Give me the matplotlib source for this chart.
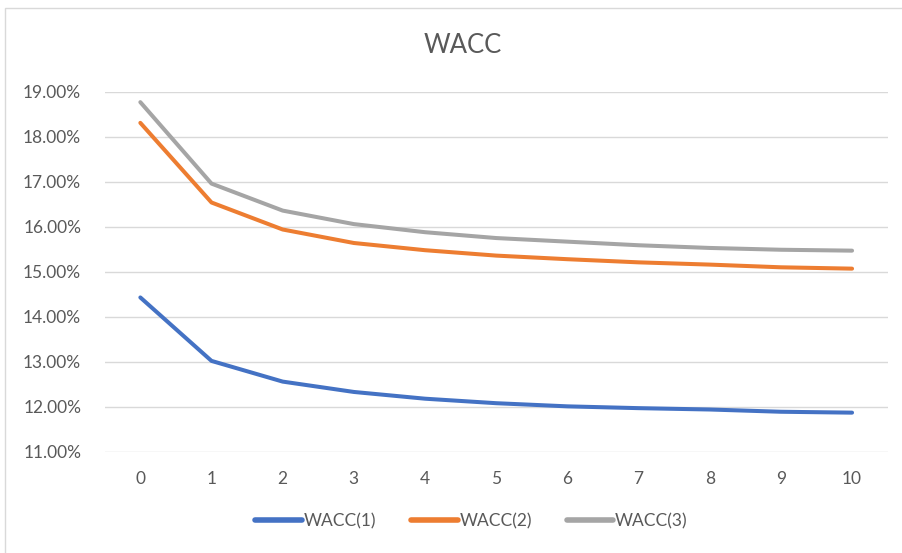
import numpy as np
import matplotlib
matplotlib.use("Agg")
import matplotlib.pyplot as plt
from matplotlib.ticker import FuncFormatter
from matplotlib.patches import Rectangle

# data (percent)
years = [0, 1, 2, 3, 4, 5, 6, 7, 8, 9, 10]
wacc_1 = [14.43, 13.02, 12.56, 12.33, 12.18, 12.08, 12.01, 11.97, 11.94, 11.89, 11.87]
wacc_2 = [18.31, 16.54, 15.94, 15.64, 15.48, 15.36, 15.28, 15.21, 15.16, 15.10, 15.07]
wacc_3 = [18.77, 16.96, 16.36, 16.06, 15.88, 15.75, 15.67, 15.59, 15.53, 15.49, 15.47]
series_names = ["WACC(1)", "WACC(2)", "WACC(3)"]
colors = ["#4472C4", "#ED7D31", "#A5A5A5"]

plt.rcParams['font.family'] = ['Lato', 'DejaVu Sans']
text_col = "#595959"

fig = plt.figure(figsize=(9.03, 5.53), dpi=100)
ax = fig.add_axes([0.116, 0.183, 0.867, 0.651])

x = np.arange(len(years))
for vals, name, c in zip([wacc_1, wacc_2, wacc_3], series_names, colors):
    ax.plot(x, vals, color=c, lw=2.9, label=name, solid_capstyle="round")

ax.set_xlim(-0.5, len(years) - 0.5)
ax.set_ylim(11, 19)
ax.set_yticks(np.arange(11, 19.5, 1))
ax.yaxis.set_major_formatter(FuncFormatter(lambda v, p: f"{v:.2f}%"))
ax.set_xticks(x)
ax.set_xticklabels([str(y) for y in years])
ax.grid(axis="y", color="#D9D9D9", lw=1.0)
ax.set_axisbelow(True)
for s in ax.spines.values():
    s.set_visible(False)
ax.tick_params(length=0, colors=text_col, labelsize=12.5)
ax.tick_params(axis="x", pad=14)
ax.tick_params(axis="y", pad=17)

fig.text(0.512, 0.918, "WACC", ha="center", va="center", fontsize=18.5, color=text_col)

leg = fig.legend(loc="center", bbox_to_anchor=(0.522, 0.057), ncol=3, frameon=False,
                 fontsize=12.5, handlelength=2.7, handletextpad=0.1, columnspacing=2.0)
for t in leg.get_texts():
    t.set_color(text_col)
for h in leg.get_lines():
    h.set_linewidth(4)

# outer chart border
fig.patches.append(Rectangle((0.006, -0.01), 1.0, 0.996, transform=fig.transFigure,
                             fill=False, edgecolor="#D9D9D9", lw=1.0))

fig.savefig("out.png", dpi=100)
